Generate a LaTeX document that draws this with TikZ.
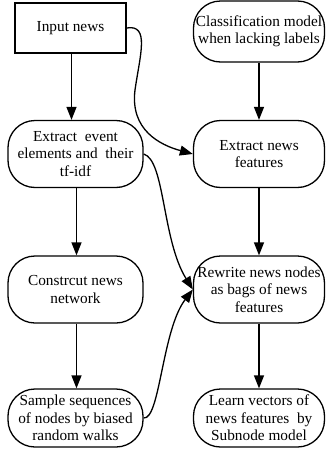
\documentclass[tikz,border=0pt]{standalone}
\usepackage{fontspec}
\setmainfont{Liberation Serif}
\usetikzlibrary{arrows.meta}
\begin{document}
\begin{tikzpicture}[x=1pt,y=-1pt,
  every node/.style={font=\fontsize{15.3}{17.5}\selectfont, align=center, inner sep=0pt},
  box/.style={draw, line width=1.3pt, rounded corners=27pt},
  sq/.style={draw, line width=1.3pt},
  arr/.style={line width=1.3pt, -{Triangle[length=13pt,width=10pt]}}]
\useasboundingbox (0,0) rectangle (327,461);
\node[sq, minimum width=111pt, minimum height=50pt] (in) at (70.5,28) {Input news};
\node[box, minimum width=131pt, minimum height=61pt] (cls) at (259,31.5) {Classification model\\when lacking labels};
\node[box, minimum width=135pt, minimum height=67pt] (ee) at (75.5,154) {Extract\ \ event\\elements and\ \ their\\tf-idf};
\node[box, minimum width=131pt, minimum height=67pt] (ef) at (259,154) {Extract news\\features};
\node[box, minimum width=135pt, minimum height=67pt] (cn) at (75.5,289.5) {Constrcut news\\network};
\node[box, minimum width=131pt, minimum height=67pt] (rw) at (259,289.5) {Rewrite news nodes\\as bags of news\\features};
\node[box, minimum width=135pt, minimum height=58pt] (ss) at (75.5,418) {Sample sequences\\of nodes by biased\\random walks};
\node[box, minimum width=131pt, minimum height=58pt] (lv) at (259,418) {Learn vectors of\\news features\ \ by\\Subnode model};
\draw[arr] (in.south -| 71.5,0) -- (ee.north -| 71.5,0);
\draw[arr] (cls) -- (ef);
\draw[arr] (ee.south -| 76.5,0) -- (cn.north -| 76.5,0);
\draw[arr] (cn.south -| 76.5,0) -- (ss.north -| 76.5,0);
\draw[arr] (ef) -- (rw);
\draw[arr] (rw) -- (lv);
\draw[arr] (in.east) .. controls (150,24) and (140,55) .. (135,90) .. controls (130,130) and (160,145) .. (ef.west);
\draw[arr] (ee.east) .. controls (165,160) and (162,240) .. (rw.west);
\draw[arr] (ss.east) .. controls (160,420) and (162,330) .. (rw.west);
\end{tikzpicture}
\end{document}
